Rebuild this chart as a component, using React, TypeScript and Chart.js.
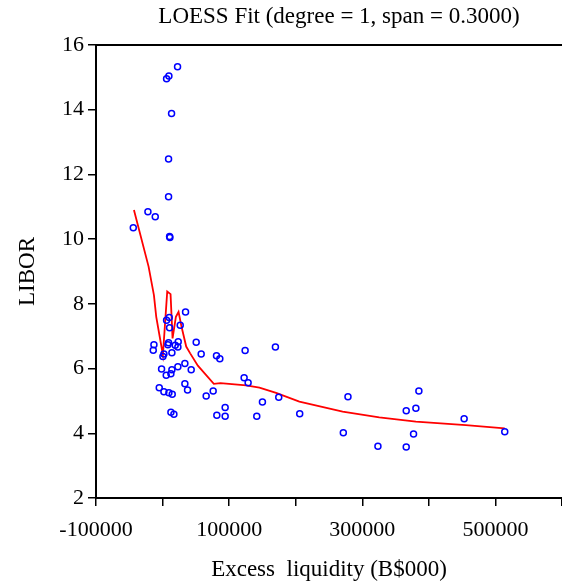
import React, { useEffect, useRef } from "react";
import { Chart, registerables } from "chart.js";

Chart.register(...registerables);

const pointX = [
  22500, 9500, 6000, 13500, 9000, 9000, -22000, -11000, -44000, 10500,
  11000, 34500, 10000, 6000, 26500, 10500, -13000, -14000, 9000, 8000,
  23500, 19000, 23000, 50500, 14000, 2000, 500, 58000, 81000, 86000,
  124000, 169500, -1500, 14000, 23000, 33500, 5500, 12500, 43000, 33500,
  37500, -5000, 2000, 9500, 14500, 65500, 76000, 122500, 128500, 12500,
  17000, 94000, 81500, 94000, 150000, 141500, 174500, 206000, 278500, 271500,
  323500, 366000, 380500, 385000, 377000, 366000, 453000, 514000,
];
const pointY = [
  15.33, 15.04, 14.96, 13.88, 12.48, 11.31, 10.85, 10.69, 10.35, 10.08,
  10.05, 7.75, 7.58, 7.49, 7.34, 7.26, 6.74, 6.57, 6.8, 6.74,
  6.83, 6.72, 6.67, 6.81, 6.49, 6.45, 6.37, 6.45, 6.4, 6.3,
  6.56, 6.67, 5.99, 5.96, 6.06, 6.16, 5.79, 5.84, 5.96, 5.53,
  5.34, 5.41, 5.28, 5.25, 5.21, 5.15, 5.31, 5.72, 5.56, 4.65,
  4.59, 4.8, 4.56, 4.53, 4.97, 4.53, 5.11, 4.6, 5.13, 4.02,
  3.6, 4.7, 4.77, 5.31, 3.98, 3.58, 4.45, 4.05,
];

const loessX = [
  -43000, -21000, -13000, -9500, 500, 7000, 12000, 15000, 20000, 24000,
  28500, 35500, 41500, 53000, 77000, 87000, 125500, 145500, 170500, 205500,
  270500, 325500, 380500, 455500, 514000,
];
const loessY = [
  10.9, 9.15, 8.27, 7.6, 6.42, 8.38, 8.3, 6.93, 7.6, 7.75,
  7.29, 6.68, 6.47, 6.09, 5.53, 5.55, 5.48, 5.41, 5.25, 4.98,
  4.67, 4.49, 4.36, 4.25, 4.15,
];

const titleText = "LOESS Fit (degree = 1, span = 0.3000)";
const xTitle = "Excess  liquidity (B$000)";
const yTitle = "LIBOR";
const labeledXTicks = [-100000, 100000, 300000, 500000];

const FONT = "'Liberation Serif', 'Times New Roman', serif";

const frameAndTitle = {
  id: "frameAndTitle",
  afterDraw(chart: any) {
    const { ctx, chartArea } = chart;
    ctx.save();
    ctx.strokeStyle = "#000";
    ctx.lineWidth = 2;
    ctx.beginPath();
    ctx.moveTo(chartArea.left - 1, chartArea.top);
    ctx.lineTo(chartArea.right, chartArea.top);
    ctx.stroke();
    ctx.fillStyle = "#000";
    ctx.font = `23px ${FONT}`;
    ctx.textAlign = "center";
    ctx.textBaseline = "middle";
    ctx.fillText(titleText, 339, 17);
    ctx.restore();
  },
};

export default function App() {
  const ref = useRef<HTMLCanvasElement>(null);
  useEffect(() => {
    if (!ref.current) return;
    const chart = new Chart(ref.current, {
      type: "scatter",
      data: {
        datasets: [
          {
            type: "line",
            label: "LOESS",
            data: loessX.map((x, i) => ({ x, y: loessY[i] })),
            borderColor: "#ff0000",
            borderWidth: 1.8,
            pointRadius: 0,
            tension: 0,
            fill: false,
            order: 2,
          } as any,
          {
            type: "scatter",
            label: "LIBOR",
            data: pointX.map((x, i) => ({ x, y: pointY[i] })),
            borderColor: "#0000ff",
            backgroundColor: "rgba(0,0,0,0)",
            borderWidth: 1.5,
            pointRadius: 3,
            pointHoverRadius: 3,
            order: 1,
          },
        ],
      },
      options: {
        animation: false,
        responsive: false,
        maintainAspectRatio: false,
        events: [],
        layout: { autoPadding: false, padding: { left: 0, right: 0, top: 45, bottom: 0 } },
        plugins: {
          legend: { display: false },
          tooltip: { enabled: false },
          title: { display: false },
        },
        scales: {
          x: {
            type: "linear",
            min: -100000,
            max: 600000,
            afterFit(scale: any) {
              scale.height = 86;
              scale.paddingLeft = 0;
              scale.paddingRight = 0;
            },
            afterBuildTicks(scale: any) {
              const t = [];
              for (let v = -100000; v <= 600000; v += 100000) t.push({ value: v });
              scale.ticks = t;
            },
            ticks: {
              autoSkip: false,
              maxRotation: 0,
              color: "#000",
              padding: 11,
              font: { family: FONT, size: 22 },
              callback: (v: any) => (labeledXTicks.includes(Number(v)) ? String(v) : ""),
            },
            grid: {
              drawOnChartArea: false,
              drawTicks: true,
              tickLength: 8,
              color: "#000",
              lineWidth: 1.5,
            },
            border: { display: true, color: "#000", width: 2 },
            title: {
              display: true,
              text: xTitle,
              color: "#000",
              font: { family: FONT, size: 23 },
              padding: { top: 6, bottom: 0 },
            },
          },
          y: {
            type: "linear",
            min: 2,
            max: 16,
            afterFit(scale: any) {
              scale.width = 96;
              scale.paddingTop = 0;
              scale.paddingBottom = 0;
            },
            ticks: {
              stepSize: 2,
              color: "#000",
              padding: 4,
              font: { family: FONT, size: 22 },
            },
            grid: {
              drawOnChartArea: false,
              drawTicks: true,
              tickLength: 8,
              color: "#000",
              lineWidth: 1.5,
            },
            border: { display: true, color: "#000", width: 2 },
            title: {
              display: true,
              text: yTitle,
              color: "#000",
              font: { family: FONT, size: 23 },
              padding: { top: 14, bottom: 8 },
            },
          },
        },
      },
      plugins: [frameAndTitle],
    });
    return () => chart.destroy();
  }, []);
  return (
    <div style={{ position: "fixed", left: 0, top: 0, width: 562, height: 584, background: "#fff" }}>
      <canvas ref={ref} width={562} height={584} style={{ width: 562, height: 584, display: "block" }} />
    </div>
  );
}
